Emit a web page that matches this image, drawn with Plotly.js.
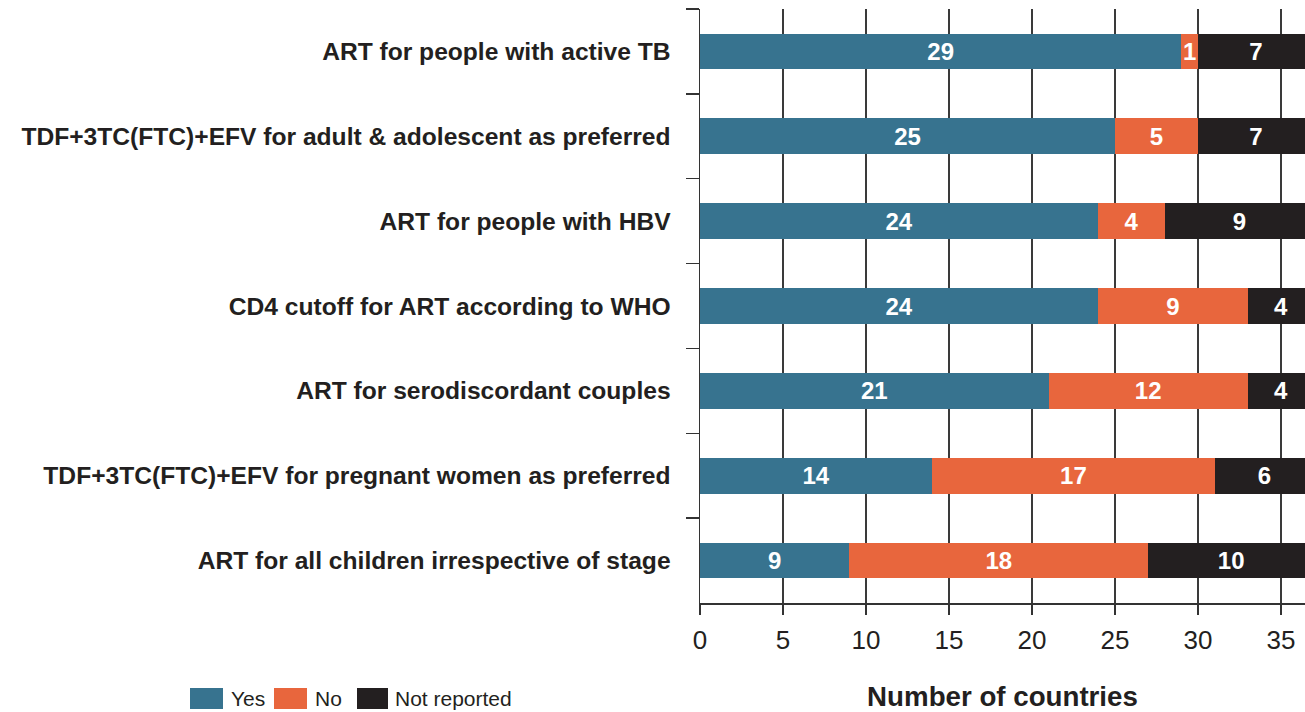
<!DOCTYPE html>
<html>
<head>
<meta charset="utf-8">
<script src="https://cdn.plot.ly/plotly-3.0.1.min.js"></script>
<style>
  html, body { margin: 0; padding: 0; background: #ffffff; }
  #chart { width: 1305px; height: 712px; }
</style>
</head>
<body>
<div id="chart"></div>
<script>
// ---- Data ----
const categories = [
  "ART for people with active TB",
  "TDF+3TC(FTC)+EFV for adult & adolescent as preferred",
  "ART for people with HBV",
  "CD4 cutoff for ART according to WHO",
  "ART for serodiscordant couples",
  "TDF+3TC(FTC)+EFV for pregnant women as preferred",
  "ART for all children irrespective of stage"
];
const seriesNames = ["Yes", "No", "Not reported"];
const yesValues = [29, 25, 24, 24, 21, 14, 9];
const noValues = [1, 5, 4, 9, 12, 17, 18];
const notReportedValues = [7, 7, 9, 4, 4, 6, 10];
const xTickValues = [0, 5, 10, 15, 20, 25, 30, 35];
const xTitle = "Number of countries";

// ---- Style ----
const colors = ["#37738f", "#e8663d", "#231f20"];
const textDark = "#231f20";
const FONT = "'Liberation Sans', Arial, sans-serif";

const W = 1305, H = 712;
const M = { l: 700, r: 0, t: 9, b: 109 };
const plotW = W - M.l - M.r, plotH = H - M.t - M.b;
const px = x => (x - M.l) / plotW;
const py = y => (H - M.b - y) / plotH;

const allSeries = [yesValues, noValues, notReportedValues];
const traces = allSeries.map((vals, i) => ({
  type: "bar",
  orientation: "h",
  name: seriesNames[i],
  y: categories,
  x: vals,
  text: vals.map(String),
  textposition: "inside",
  insidetextanchor: "middle",
  constraintext: "none",
  textfont: { family: FONT, size: 24, color: "#ffffff", weight: "bold" },
  marker: { color: colors[i], line: { width: 0 } },
  hoverinfo: "x+name",
  showlegend: false
}));

// Legend drawn as swatches + labels
const legendSwatches = [[190, 223], [274, 307], [357, 388]];
const legendTextX = [229, 313, 393];
const shapes = [];
const annotations = [];
seriesNames.forEach((name, i) => {
  shapes.push({
    type: "rect", xref: "paper", yref: "paper",
    x0: px(legendSwatches[i][0]), x1: px(legendSwatches[i][1]),
    y0: py(709), y1: py(688),
    fillcolor: colors[i], line: { width: 0 }
  });
  annotations.push({
    xref: "paper", yref: "paper",
    x: px(legendTextX[i]), y: py(698),
    xanchor: "left", yanchor: "middle",
    text: name, showarrow: false,
    font: { family: FONT, size: 21, color: textDark }
  });
});

const layout = {
  width: W, height: H,
  margin: M,
  paper_bgcolor: "#ffffff",
  plot_bgcolor: "#ffffff",
  barmode: "stack",
  bargap: 0.58,
  showlegend: false,
  font: { family: FONT, color: textDark },
  xaxis: {
    range: [0, 36.45],
    tickvals: xTickValues,
    ticktext: xTickValues.map(String),
    showgrid: true,
    gridcolor: "#3a3a3a",
    gridwidth: 1.5,
    zeroline: false,
    showline: true,
    linecolor: "#333333",
    linewidth: 1.5,
    ticks: "outside",
    ticklen: 10,
    tickwidth: 1.5,
    tickcolor: "#333333",
    tickfont: { family: FONT, size: 26, color: textDark },
    ticklabelstandoff: 3,
    title: { text: xTitle, font: { family: FONT, size: 27.7, color: textDark, weight: "bold" }, standoff: 33 },
    fixedrange: true
  },
  yaxis: {
    autorange: "reversed",
    type: "category",
    showgrid: false,
    zeroline: false,
    showline: true,
    linecolor: "#333333",
    linewidth: 1.5,
    ticks: "outside",
    tickson: "boundaries",
    ticklen: 13,
    tickwidth: 1.5,
    tickcolor: "#333333",
    tickfont: { family: FONT, size: 24.6, color: textDark, weight: "bold" },
    ticklabelstandoff: 23,
    fixedrange: true
  },
  shapes: shapes,
  annotations: annotations
};

Plotly.newPlot("chart", traces, layout, { displayModeBar: false, staticPlot: true });
</script>
</body>
</html>
